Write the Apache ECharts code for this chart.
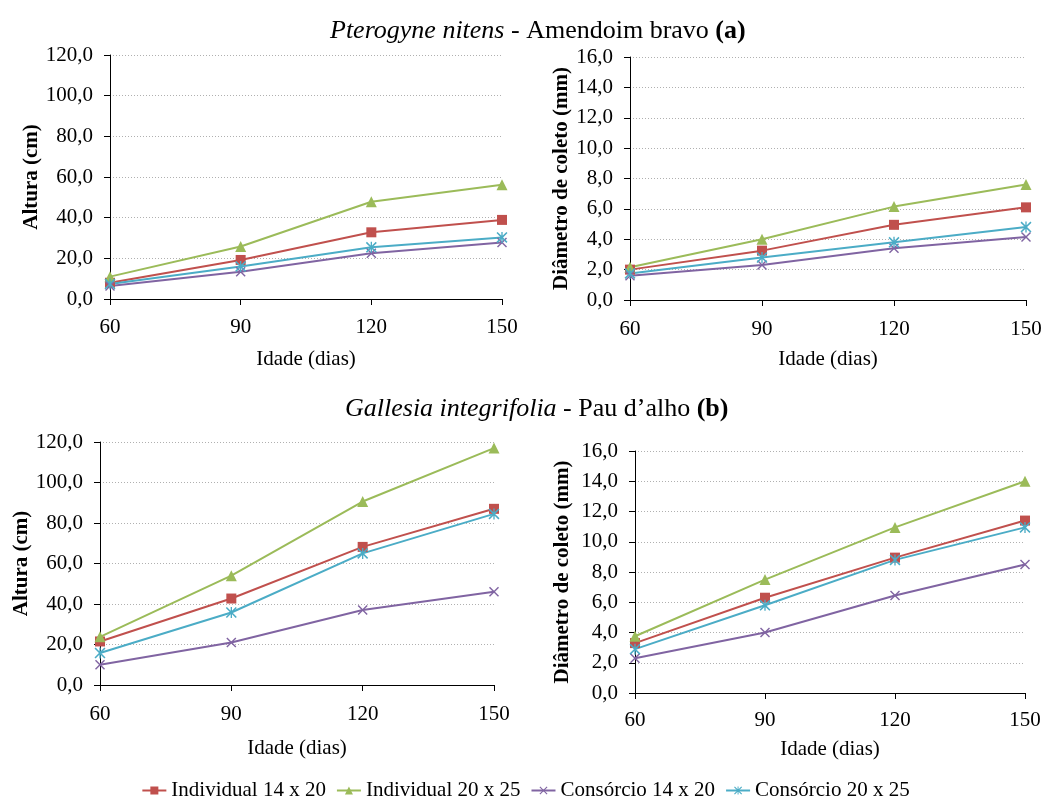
<!DOCTYPE html>
<html>
<head>
<meta charset="utf-8">
<script src="https://cdn.jsdelivr.net/npm/echarts@6/dist/echarts.min.js"></script>
<style>
  html, body { margin: 0; padding: 0; background: #fff; }
  #chart { width: 1051px; height: 798px; }
</style>
</head>
<body>
<div id="chart"></div>
<script>
  // idade (dias)
  var days = [60, 90, 120, 150]
  var seriesNames = ['Individual 14 x 20', 'Individual 20 x 25', 'Consórcio 14 x 20', 'Consórcio 20 x 25']

  // (a) Pterogyne nitens - altura (cm)
  var alturaA_ind1420 = [8.0, 19.2, 32.8, 38.9]
  var alturaA_ind2025 = [11.0, 25.8, 47.8, 56.2]
  var alturaA_con1420 = [6.4, 13.4, 22.5, 27.8]
  var alturaA_con2025 = [7.4, 16.0, 25.4, 30.3]

  // (a) Pterogyne nitens - diametro (mm)
  var diamA_ind1420 = [2.0, 3.25, 4.95, 6.1]
  var diamA_ind2025 = [2.15, 4.0, 6.15, 7.6]
  var diamA_con1420 = [1.6, 2.3, 3.4, 4.15]
  var diamA_con2025 = [1.75, 2.8, 3.8, 4.8]

  // (b) Gallesia integrifolia - altura (cm)
  var alturaB_ind1420 = [21.5, 42.7, 68.2, 87.0]
  var alturaB_ind2025 = [23.8, 54.0, 90.6, 117.0]
  var alturaB_con1420 = [10.0, 21.0, 37.0, 46.0]
  var alturaB_con2025 = [15.8, 35.8, 65.0, 84.5]

  // (b) Gallesia integrifolia - diametro (mm)
  var diamB_ind1420 = [3.3, 6.3, 8.95, 11.4]
  var diamB_ind2025 = [3.75, 7.5, 10.95, 14.0]
  var diamB_con1420 = [2.3, 4.0, 6.45, 8.5]
  var diamB_con2025 = [2.9, 5.8, 8.8, 10.95]

  var alturaTicks = { min: 0, max: 120, interval: 20 }
  var diamTicks = { min: 0, max: 16, interval: 2 }

  var colors = ['#C0504D', '#9BBB59', '#8064A2', '#4BACC6']
  var crossPath = 'path://M0,1L1,0L5,4L9,0L10,1L6,5L10,9L9,10L5,6L1,10L0,9L4,5Z'
  var starPath = 'path://M0,1L1,0L5,4L9,0L10,1L6,5L10,9L9,10L5,6L1,10L0,9L4,5Z M4.4,0L5.6,0L5.6,10L4.4,10Z'
  var symbols = ['rect', 'triangle', crossPath, starPath]
  var symbolSizes = [10, 11, 10, 11]

  var serif = 'Liberation Serif, Times New Roman, serif'

  var panels = [
    { grid: { left: 110, top: 55, width: 392, height: 244 }, yName: 'Altura (cm)', yGap: 65, xGap: 50, xMargin: 18,
      ticks: alturaTicks, data: [alturaA_ind1420, alturaA_ind2025, alturaA_con1420, alturaA_con2025] },
    { grid: { left: 630, top: 57, width: 396, height: 243 }, yName: 'Diâmetro de coleto (mm)', yGap: 57, xGap: 49, xMargin: 19,
      ticks: diamTicks, data: [diamA_ind1420, diamA_ind2025, diamA_con1420, diamA_con2025] },
    { grid: { left: 100, top: 442, width: 394, height: 243 }, yName: 'Altura (cm)', yGap: 64, xGap: 53, xMargin: 19,
      ticks: alturaTicks, data: [alturaB_ind1420, alturaB_ind2025, alturaB_con1420, alturaB_con2025] },
    { grid: { left: 635, top: 451, width: 390, height: 242 }, yName: 'Diâmetro de coleto (mm)', yGap: 62, xGap: 46, xMargin: 17,
      ticks: diamTicks, data: [diamB_ind1420, diamB_ind2025, diamB_con1420, diamB_con2025] }
  ]

  function fmt(v) {
    return v.toFixed(1).replace('.', ',')
  }

  var grids = [], xAxes = [], yAxes = [], series = []
  panels.forEach(function (p, i) {
    grids.push(p.grid)
    xAxes.push({
      type: 'value', gridIndex: i, min: 60, max: 150, interval: 30,
      name: 'Idade (dias)', nameLocation: 'middle', nameGap: p.xGap,
      nameTextStyle: { fontFamily: serif, fontSize: 21, color: '#000' },
      axisLine: { lineStyle: { color: '#000', width: 1 } },
      axisTick: { show: true, length: 6, lineStyle: { color: '#000' } },
      axisLabel: { fontFamily: serif, fontSize: 21, color: '#000', margin: p.xMargin },
      splitLine: { show: false }
    })
    yAxes.push({
      type: 'value', gridIndex: i, min: p.ticks.min, max: p.ticks.max, interval: p.ticks.interval,
      name: p.yName, nameLocation: 'middle', nameGap: p.yGap,
      nameTextStyle: { fontFamily: serif, fontSize: 21, color: '#000', fontWeight: 'bold' },
      axisLine: { show: true, lineStyle: { color: '#000', width: 1 } },
      axisTick: { show: true, length: 6, lineStyle: { color: '#000' } },
      axisLabel: { fontFamily: serif, fontSize: 21, color: '#000', margin: 17, formatter: fmt },
      splitLine: { show: true, lineStyle: { color: '#b0b0b0', type: [1, 2], width: 1 } }
    })
    p.data.forEach(function (vals, k) {
      series.push({
        name: seriesNames[k], type: 'line', xAxisIndex: i, yAxisIndex: i,
        data: days.map(function (d, j) { return [d, vals[j]] }),
        symbol: symbols[k], symbolSize: symbolSizes[k],
        itemStyle: { color: colors[k] },
        lineStyle: { color: colors[k], width: 2 },
        animation: false
      })
    })
  })

  function titleRich() {
    return {
      i: { fontFamily: serif, fontSize: 26, fontStyle: 'italic', fontWeight: 'normal', color: '#000' },
      n: { fontFamily: serif, fontSize: 26, fontWeight: 'normal', color: '#000' },
      b: { fontFamily: serif, fontSize: 26, fontWeight: 'bold', color: '#000' }
    }
  }

  var chart = echarts.init(document.getElementById('chart'))
  chart.setOption({
    backgroundColor: '#fff',
    title: [
      { text: '{i|Pterogyne nitens}{n| - Amendoim bravo }{b|(a)}', left: 325, top: 13,
        textStyle: { fontWeight: 'normal', rich: titleRich() } },
      { text: '{i|Gallesia integrifolia}{n| - Pau d\u2019alho }{b|(b)}', left: 340, top: 391,
        textStyle: { fontWeight: 'normal', rich: titleRich() } }
    ],
    legend: {
      data: seriesNames, top: 775, left: 'center',
      itemWidth: 24, itemHeight: 10, itemGap: 10,
      textStyle: { fontFamily: serif, fontSize: 21, color: '#000' }
    },
    grid: grids,
    xAxis: xAxes,
    yAxis: yAxes,
    series: series
  })
</script>
</body>
</html>
